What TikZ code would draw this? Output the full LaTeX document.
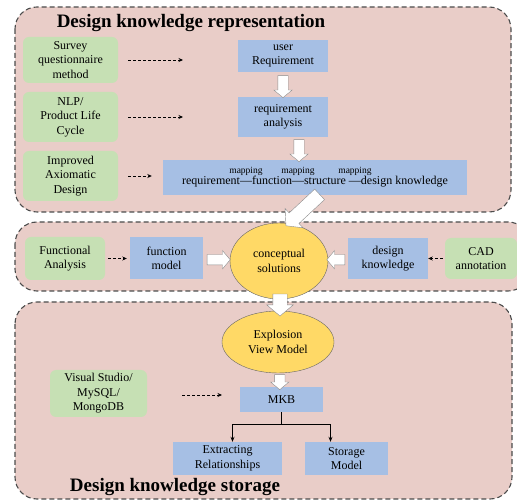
\documentclass[tikz,border=0pt]{standalone}
\usepackage{fontspec}
\setmainfont{Liberation Serif}
\usetikzlibrary{arrows.meta,positioning,shapes.geometric,shapes.arrows,calc}
\definecolor{panelpink}{RGB}{233,205,200}
\definecolor{toolgreen}{RGB}{198,224,180}
\definecolor{stepblue}{RGB}{166,191,228}
\definecolor{solyellow}{RGB}{255,217,102}
\newcommand{\mapdash}{\makebox[1em]{\raisebox{11pt}{\makebox[0pt]{\fontsize{9.5}{10}\selectfont mapping}}}\hspace{-1em}—}
\tikzset{
  panel/.style={draw=black!70,dash pattern=on 5pt off 3pt,line width=1.1pt,
    rounded corners=22pt,fill=panelpink},
  base/.style={align=center,inner sep=2pt,font=\fontsize{12}{14.5}\selectfont},
  method/.style={base,fill=toolgreen,rounded corners=6pt},
  stage/.style={base,fill=stepblue},
  concept/.style={base,ellipse,draw=black!60,fill=solyellow,inner sep=0pt},
  hollow/.style={single arrow,draw=black!45,fill=white,inner xsep=0pt,inner ysep=5pt,
    single arrow head extend=4pt,single arrow tip angle=100,minimum height=22pt},
  bighollow/.style={hollow,inner ysep=7pt,single arrow head extend=6pt},
  dasharrow/.style={-{Stealth[length=4.5pt,width=4pt]},dash pattern=on 3pt off 2pt,line width=0.8pt},
  tree/.style={-{Stealth[length=5pt,width=4pt]},line width=0.9pt},
  heading/.style={font=\fontsize{19}{22}\selectfont\bfseries}
}
\begin{document}
\begin{tikzpicture}[x=1pt,y=-1pt]
\useasboundingbox (0,0) rectangle (517,502);
% three dashed panels
\draw[panel] (15,7) rectangle (511,212);
\draw[panel] (15,222) rectangle (530,291);
\draw[panel] (15,302) rectangle (512,499);
\node[heading] (reptitle) at (191,23) {Design knowledge representation};
\node[heading] (stotitle) at (175,487) {Design knowledge storage};

% representation
\node[method,minimum width=95pt,minimum height=46pt] (survey) at (70.5,60) {Survey\\questionnaire\\method};
\node[method,minimum width=95pt,minimum height=50pt] (nlp) at (70.5,117) {NLP/\\Product Life\\Cycle};
\node[method,minimum width=95pt,minimum height=50pt] (axiom) at (70.5,176) {Improved\\Axiomatic\\Design};
\node[stage,minimum width=90pt,minimum height=32pt] (ureq) at (283,56) {user\\Requirement};
\node[stage,minimum width=90pt,minimum height=40pt] (rana) at (283,117) {requirement\\analysis};
\node[stage,minimum width=304pt,minimum height=35pt] (chain) at (315,177.5)
  {requirement\mapdash function\mapdash structure \mapdash design knowledge};
\coordinate (surveytip) at (183,60);
\coordinate (nlptip) at (183,117);
\draw[dasharrow] ([xshift=10pt]survey.east) -- (surveytip);
\draw[dasharrow] ([xshift=10pt]nlp.east) -- (nlptip);
\draw[dasharrow,shorten <=10pt,shorten >=11pt] (axiom.east) -- (axiom.east -| chain.west);
\node[hollow,rotate=-90] (h1) at ($(ureq.south)!0.5!(rana.north)$) {};
\node[hollow,rotate=-90] (h2) at ($(rana.south)!0.5!(chain.north)$) {};

% conceptual design
\node[method,minimum width=80pt,minimum height=43pt] (func) at (65,258.5) {Functional\\Analysis};
\node[stage,minimum width=73pt,minimum height=42pt] (fmodel) at (166.5,258.5) {function\\model};
\node[concept,minimum width=98pt,minimum height=76pt] (concsol) at (279,261) {conceptual\\solutions};
\node[stage,minimum width=80pt,minimum height=41pt] (dknow) at (388,258.5) {design\\knowledge};
\node[method,minimum width=72pt,minimum height=41pt] (cad) at (481,258.5) {CAD\\annotation};
\draw[dasharrow,shorten <=3pt,shorten >=3pt] (func) -- (fmodel);
\draw[dasharrow,shorten <=2pt] (cad) -- (dknow);
\node[hollow,minimum height=23pt] (h3) at ($(fmodel.east)!0.5!(concsol.west)$) {};
\node[hollow,minimum height=18pt,rotate=180] (h4) at ($(concsol.east)!0.5!(dknow.west)$) {};
\node[bighollow,minimum height=46pt,rotate=223] (h5) at (305,208) {};

% storage
\node[concept,minimum width=112pt,minimum height=62pt] (explode) at (278,342) {Explosion\\View Model};
\node[bighollow,minimum height=22pt,rotate=-90] (h6) at (280,302) {};
\node[stage,minimum width=83pt,minimum height=25pt] (mkb) at (281.5,399.5) {MKB};
\node[hollow,minimum height=15pt,rotate=-90] (h7) at ($(explode.south)!0.5!(mkb.north)$) {};
\node[method,minimum width=97pt,minimum height=47pt] (vstudio) at (98.5,393.5) {Visual Studio/\\MySQL/\\MongoDB};
\coordinate (vstip) at (222,395);
\draw[dasharrow,shorten <=35pt] (vstudio.east |- vstip) -- (vstip);
\node[stage,minimum width=109pt,minimum height=33pt] (extract) at (227.5,458.5) {Extracting\\Relationships};
\node[stage,minimum width=83pt,minimum height=33pt] (storage) at (346.5,458.5) {Storage\\Model};
\coordinate (fork) at (mkb.south |- 0,424);
\draw[line width=0.9pt] (mkb.south) -- (fork);
\draw[tree] (fork) -| ([xshift=5pt]extract.north);
\draw[tree] (fork) -| ([xshift=-16pt]storage.north);
\end{tikzpicture}
\end{document}
